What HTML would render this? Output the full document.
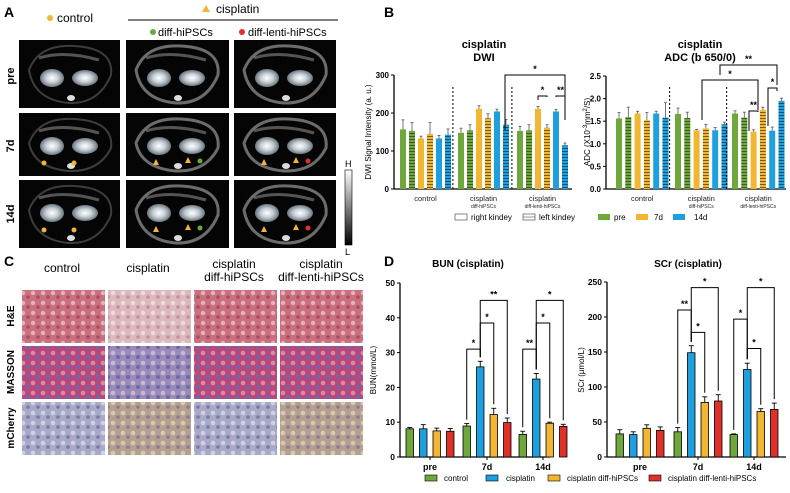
<!DOCTYPE html>
<html><head><meta charset="utf-8"><style>
body{margin:0;background:#fff;font-family:"Liberation Sans",Arial,sans-serif}
svg text{font-family:"Liberation Sans",Arial,sans-serif}
</style></head><body>
<svg id="fig" width="790" height="488" viewBox="0 0 790 488" xmlns="http://www.w3.org/2000/svg">
<defs>
<pattern id="hatchG" width="4" height="3" patternUnits="userSpaceOnUse"><rect width="4" height="3" fill="#6ea83c"/><line x1="0" y1="1.5" x2="4" y2="1.5" stroke="#2d4a18" stroke-width="0.8"/></pattern>
<pattern id="hatchY" width="4" height="3" patternUnits="userSpaceOnUse"><rect width="4" height="3" fill="#f2b632"/><line x1="0" y1="1.5" x2="4" y2="1.5" stroke="#5a4210" stroke-width="0.8"/></pattern>
<pattern id="hatchB" width="4" height="3" patternUnits="userSpaceOnUse"><rect width="4" height="3" fill="#1e9fe0"/><line x1="0" y1="1.5" x2="4" y2="1.5" stroke="#0c3f5a" stroke-width="0.8"/></pattern>
<radialGradient id="kid"><stop offset="0" stop-color="#ffffff"/><stop offset="0.5" stop-color="#c8d0d6"/><stop offset="1" stop-color="#6a7680"/></radialGradient>
<linearGradient id="cbar" x1="0" y1="0" x2="0" y2="1"><stop offset="0" stop-color="#fff"/><stop offset="1" stop-color="#000"/></linearGradient>
<pattern id="he" width="10" height="10" patternUnits="userSpaceOnUse"><rect width="10" height="10" fill="#c9707f"/><circle cx="3" cy="3" r="2.2" fill="#e7b1bb"/><circle cx="8" cy="7" r="1.8" fill="#a94b62"/></pattern>
<pattern id="heL" width="10" height="10" patternUnits="userSpaceOnUse"><rect width="10" height="10" fill="#dcb8bf"/><circle cx="3" cy="3" r="2.2" fill="#efdadd"/><circle cx="8" cy="7" r="1.8" fill="#c3929d"/></pattern>
<pattern id="ms" width="10" height="10" patternUnits="userSpaceOnUse"><rect width="10" height="10" fill="#b8487a"/><circle cx="3" cy="3" r="2.3" fill="#d88aa8"/><circle cx="8" cy="7" r="2" fill="#6a68b0"/></pattern>
<pattern id="msL" width="10" height="10" patternUnits="userSpaceOnUse"><rect width="10" height="10" fill="#9a8ab8"/><circle cx="3" cy="3" r="2.3" fill="#c8b8d8"/><circle cx="8" cy="7" r="2" fill="#6a6aaa"/></pattern>
<pattern id="mc" width="10" height="10" patternUnits="userSpaceOnUse"><rect width="10" height="10" fill="#a8a8c8"/><circle cx="3" cy="3" r="2.3" fill="#d0d0e0"/><circle cx="8" cy="7" r="1.8" fill="#7a7aa0"/></pattern>
<pattern id="mcB" width="10" height="10" patternUnits="userSpaceOnUse"><rect width="10" height="10" fill="#b4a08c"/><circle cx="3" cy="3" r="2.3" fill="#d8c8b8"/><circle cx="8" cy="7" r="1.8" fill="#8a7aa0"/></pattern>
</defs>
<g id="panelA">
<text x="4" y="17" font-size="14" font-weight="bold">A</text>
<circle cx="50" cy="18" r="3" fill="#f2b632"/>
<text x="57" y="22" font-size="12">control</text>
<polygon points="206,5 210,12 202,12" fill="#f2b632"/>
<text x="216" y="13" font-size="12">cisplatin</text>
<line x1="128" y1="20" x2="338" y2="20" stroke="#000"/>
<circle cx="153" cy="32" r="3" fill="#6ea83c"/>
<text x="158" y="36" font-size="11">diff-hiPSCs</text>
<circle cx="242" cy="32" r="3" fill="#e0302a"/>
<text x="248" y="36" font-size="11">diff-lenti-hiPSCs</text>
<text transform="translate(14,76) rotate(-90)" font-size="11" font-weight="bold" text-anchor="middle">pre</text>
<text transform="translate(14,146) rotate(-90)" font-size="11" font-weight="bold" text-anchor="middle">7d</text>
<text transform="translate(14,214) rotate(-90)" font-size="11" font-weight="bold" text-anchor="middle">14d</text>
<g id="mri"></g>
<rect x="345" y="170" width="7" height="75" fill="url(#cbar)" stroke="#000" stroke-width="0.6"/>
<text x="345" y="167" font-size="9">H</text>
<text x="345" y="255" font-size="9">L</text>
</g>
<g id="panelC">
<text x="4" y="266" font-size="14" font-weight="bold">C</text>
<text x="62" y="272" font-size="12" text-anchor="middle">control</text>
<text x="148" y="272" font-size="12" text-anchor="middle">cisplatin</text>
<text x="234" y="268" font-size="12" text-anchor="middle">cisplatin</text>
<text x="234" y="281" font-size="12" text-anchor="middle">diff-hiPSCs</text>
<text x="321" y="268" font-size="12" text-anchor="middle">cisplatin</text>
<text x="321" y="281" font-size="12" text-anchor="middle">diff-lenti-hiPSCs</text>
<text transform="translate(14,316) rotate(-90)" font-size="10" font-weight="bold" text-anchor="middle">H&amp;E</text>
<text transform="translate(14,372) rotate(-90)" font-size="10" font-weight="bold" text-anchor="middle">MASSON</text>
<text transform="translate(14,428) rotate(-90)" font-size="10" font-weight="bold" text-anchor="middle">mCherry</text>
<g id="histo"></g>
</g>
<g id="panelB">
<text x="384" y="17" font-size="14" font-weight="bold">B</text>
<text x="484" y="48" font-size="11" font-weight="bold" text-anchor="middle">cisplatin</text>
<text x="484" y="61" font-size="11" font-weight="bold" text-anchor="middle">DWI</text>
<text x="700" y="48" font-size="11" font-weight="bold" text-anchor="middle">cisplatin</text>
<text x="700" y="61" font-size="11" font-weight="bold" text-anchor="middle">ADC (b 650/0)</text>
<text transform="translate(371,132) rotate(-90)" font-size="8" text-anchor="middle">DWI Signal Intensity (a. u.)</text>
<text transform="translate(590,132) rotate(-90)" font-size="8" text-anchor="middle">ADC (X10<tspan dy="-3" font-size="6">-3</tspan><tspan dy="3">mm</tspan><tspan dy="-3" font-size="6">2</tspan><tspan dy="3">/S)</tspan></text>
<g id="chartDWI"></g><g id="chartADC"></g>
<g font-size="8">
<rect x="455" y="214" width="12" height="6" fill="#fff" stroke="#555" stroke-width="0.7"/><text x="471" y="220">right kindey</text>
<rect x="523" y="214" width="12" height="6" fill="#fff" stroke="#555" stroke-width="0.7"/><line x1="523" y1="217" x2="535" y2="217" stroke="#555" stroke-width="0.6"/><text x="539" y="220">left kindey</text>
<rect x="598" y="214" width="12" height="6" fill="#6ea83c"/><text x="614" y="220">pre</text>
<rect x="636" y="214" width="12" height="6" fill="#f2b632"/><text x="654" y="220">7d</text>
<rect x="673" y="214" width="12" height="6" fill="#1e9fe0"/><text x="694" y="220">14d</text>
</g>
</g>
<g id="panelD">
<text x="384" y="266" font-size="14" font-weight="bold">D</text>
<text x="468" y="267" font-size="10" font-weight="bold" text-anchor="middle">BUN (cisplatin)</text>
<text x="688" y="267" font-size="10" font-weight="bold" text-anchor="middle">SCr (cisplatin)</text>
<text transform="translate(376,370) rotate(-90)" font-size="8" text-anchor="middle">BUN(mmol/L)</text>
<text transform="translate(584,370) rotate(-90)" font-size="8" text-anchor="middle">SCr (μmol/L)</text>
<g id="chartBUN"></g><g id="chartSCR"></g>
<g font-size="8">
<rect x="425" y="475" width="12" height="6" fill="#6ea83c" stroke="#000" stroke-width="0.6"/><text x="444" y="481">control</text>
<rect x="486" y="475" width="12" height="6" fill="#1e9fe0" stroke="#000" stroke-width="0.6"/><text x="506" y="481">cisplatin</text>
<rect x="548" y="475" width="12" height="6" fill="#f2b632" stroke="#000" stroke-width="0.6"/><text x="567" y="481">cisplatin diff-hiPSCs</text>
<rect x="649" y="475" width="12" height="6" fill="#e0302a" stroke="#000" stroke-width="0.6"/><text x="668" y="481">cisplatin diff-lenti-hiPSCs</text>
</g>
</g>
</svg>
<script>
// ---------- Panel B data ----------
const bGroups = ["control","cisplatin","cisplatin"];
const bSub = ["","diff-hiPSCs","diff-lenti-hiPSCs"];
const dwiValues = [[157,153,133,145,133,143],[148,154,211,186,204,169],[153,154,211,161,204,115]];
const dwiErrors = [[25,22,6,30,8,15],[12,15,8,12,6,14],[12,15,6,8,5,6]];
const dwiTicks = [0,100,200,300];
const adcValues = [[1.56,1.59,1.67,1.52,1.67,1.58],[1.66,1.57,1.30,1.34,1.30,1.43],[1.67,1.58,1.27,1.75,1.29,1.95]];
const adcErrors = [[0.13,0.22,0.05,0.17,0.05,0.33],[0.13,0.13,0.02,0.09,0.06,0.05],[0.06,0.12,0.04,0.06,0.08,0.06]];
const adcTicks = [0,0.5,1.0,1.5,2.0,2.5];
// ---------- Panel D data ----------
const dCats = ["pre","7d","14d"];
const bunValues = [[8.1,8.1,7.5,7.4],[8.9,25.9,12.2,9.9],[6.5,22.4,9.7,8.8]];
const bunErrors = [[0.4,1.2,0.8,0.8],[0.7,1.6,1.8,1.3],[0.9,1.6,0.3,0.6]];
const bunTicks = [0,10,20,30,40,50];
const scrValues = [[33,32,41,38],[36,149,78,80],[32,125,65,68]];
const scrErrors = [[6,4,5,5],[6,10,8,9],[1,9,4,9]];
const scrTicks = [0,50,100,150,200,250];

const NS="http://www.w3.org/2000/svg";
function mk(parent,tag,attrs){const e=document.createElementNS(NS,tag);for(const k in attrs)e.setAttribute(k,attrs[k]);parent.appendChild(e);return e;}

function drawB(gid,vals,errs,ticks,ymax,x0,x1,y0,y1,groupStarts,step,fmt,name){
  const g=document.getElementById(gid);
  const ys=v=>y0-(v/ymax)*(y0-y1);
  const fills=["#6ea83c","url(#hatchG)","#f2b632","url(#hatchY)","#1e9fe0","url(#hatchB)"];
  mk(g,"line",{x1:x0,y1:y0,x2:x1,y2:y0,stroke:"#000","stroke-width":1.3});
  mk(g,"line",{x1:x0,y1:y0,x2:x0,y2:y1,stroke:"#000","stroke-width":1.3});
  ticks.forEach(t=>{
    mk(g,"line",{x1:x0-3,y1:ys(t),x2:x0,y2:ys(t),stroke:"#000"});
    const tx=mk(g,"text",{x:x0-5,y:ys(t)+3,"font-size":8,"font-weight":"bold","text-anchor":"end"});
    tx.textContent=fmt(t);
    
    
  });
  vals.forEach((grp,gi)=>{
    grp.forEach((v,bi)=>{
      const cx=groupStarts[gi]+bi*step, w=6;
      const e=errs[gi][bi];
      mk(g,"line",{x1:cx,y1:ys(v),x2:cx,y2:ys(v+e),stroke:"#555","stroke-width":0.8});
      mk(g,"line",{x1:cx-1.5,y1:ys(v+e),x2:cx+1.5,y2:ys(v+e),stroke:"#555","stroke-width":0.8});
      const r=mk(g,"rect",{x:cx-w/2,y:ys(v),width:w,height:y0-ys(v),fill:fills[bi]});
      
      
    });
    const c=groupStarts[gi]+2.5*step;
    const t=mk(g,"text",{x:c,y:y0+12,"font-size":7.5,"text-anchor":"middle",fill:"#222"});t.textContent=bGroups[gi];
    if(bSub[gi]){const s=mk(g,"text",{x:c,y:y0+19,"font-size":5,"text-anchor":"middle",fill:"#222"});s.textContent=bSub[gi];}
    if(gi>0){const dx=groupStarts[gi]-step*0.9;mk(g,"line",{x1:dx,y1:y0,x2:dx,y2:y1+10,stroke:"#000","stroke-dasharray":"2,2","stroke-width":1});}
  });
  return {ys};
}
drawB("chartDWI",dwiValues,dwiErrors,dwiTicks,300,394,572,189,75,[403,461,520],9,t=>t,"dwi");
drawB("chartADC",adcValues,adcErrors,adcTicks,2.5,606,786,189,76,[619,678,735],9.3,t=>t.toFixed(1),"adc");

function bracket(g,xa,xb,y,ya,yb,label){
  mk(g,"polyline",{points:`${xa},${ya} ${xa},${y} ${xb},${y} ${xb},${yb}`,fill:"none",stroke:"#000","stroke-width":1});
  const t=mk(g,"text",{x:(xa+xb)/2,y:y-3,"font-size":9,"font-weight":"bold","text-anchor":"middle"});t.textContent=label;
}
const gD=document.getElementById("chartDWI");
bracket(gD,538,547,96,100,97,"*");bracket(gD,556,565,96,97,105,"**");bracket(gD,505,565,75,130,120,"*");
const gA=document.getElementById("chartADC");
bracket(gA,768,777,88,126,91,"*");bracket(gA,749,758,111,131,112,"**");bracket(gA,702,758,80,120,110,"*");bracket(gA,720,777,65,75,85,"**");

function drawD(gid,vals,errs,ticks,ymax,x0,x1,y0,y1,centers,name,brs){
  const g=document.getElementById(gid);
  const ys=v=>y0-(v/ymax)*(y0-y1);
  const cols=["#6ea83c","#1e9fe0","#f2b632","#e0302a"];
  mk(g,"line",{x1:x0,y1:y0,x2:x1,y2:y0,stroke:"#000","stroke-width":1.3});
  mk(g,"line",{x1:x0,y1:y0,x2:x0,y2:y1,stroke:"#000","stroke-width":1.3});
  ticks.forEach(t=>{
    mk(g,"line",{x1:x0-3,y1:ys(t),x2:x0,y2:ys(t),stroke:"#000"});
    const tx=mk(g,"text",{x:x0-5,y:ys(t)+3,"font-size":8.5,"font-weight":"bold","text-anchor":"end"});tx.textContent=t;
    
    
  });
  const pos=[];
  vals.forEach((grp,gi)=>{
    pos.push([]);
    grp.forEach((v,bi)=>{
      const cx=centers[gi]+(bi-1.5)*13.5, w=7.5;pos[gi].push(cx);
      const e=errs[gi][bi];
      mk(g,"line",{x1:cx,y1:ys(v),x2:cx,y2:ys(v+e),stroke:"#000","stroke-width":0.9});
      mk(g,"line",{x1:cx-2.5,y1:ys(v+e),x2:cx+2.5,y2:ys(v+e),stroke:"#000","stroke-width":0.9});
      const r=mk(g,"rect",{x:cx-w/2,y:ys(v),width:w,height:y0-ys(v),fill:cols[bi],stroke:"#000","stroke-width":0.8});
      
      
    });
    mk(g,"line",{x1:centers[gi],y1:y0,x2:centers[gi],y2:y0+3,stroke:"#000"});
    const t=mk(g,"text",{x:centers[gi],y:y0+13,"font-size":9,"font-weight":"bold","text-anchor":"middle"});t.textContent=dCats[gi];
  });
  brs.forEach(b=>{
    const [gi,a,c,h,lab]=b;
    const xa=pos[gi][a],xb=pos[gi][c];
    const va=vals[gi][a]+errs[gi][a], vb=vals[gi][c]+errs[gi][c];
    bracket(g,xa,xb,ys(h),ys(va)-4,ys(vb)-4,lab);
  });
}
drawD("chartBUN",bunValues,bunErrors,bunTicks,50,400,550,457,283,[430,487,543],"bun",
 [[1,0,1,31,"*"],[1,1,2,38.5,"*"],[1,1,3,45,"**"],[2,0,1,31,"**"],[2,1,2,38.5,"*"],[2,1,3,45,"*"]]);
drawD("chartSCR",scrValues,scrErrors,scrTicks,250,607,786,457,282,[640,698,754],"scr",
 [[1,0,1,210,"**"],[1,1,2,178,"*"],[1,1,3,242,"*"],[2,0,1,197,"*"],[2,1,2,155,"*"],[2,1,3,242,"*"]]);

// MRI tiles
const mri=document.getElementById("mri");
const cols=[19,126,234],colW=[101,103,102],rows=[40,113,180],rowH=[68,63,68];
const markColor=["#f2b632","#6ea83c","#e0302a"];
rows.forEach((ry,ri)=>cols.forEach((cx,ci)=>{
  const w=colW[ci],h=rowH[ri];
  const r=mk(mri,"rect",{x:cx,y:ry,width:w,height:h,fill:"#050505"});
  
  
  mk(mri,"path",{d:`M${cx+10},${ry+30} Q${cx+20},${ry+4} ${cx+55},${ry+6} Q${cx+95},${ry+8} ${cx+92},${ry+35} Q${cx+80},${ry+h-4} ${cx+50},${ry+h-5} Q${cx+15},${ry+h-8} ${cx+10},${ry+30}Z`,fill:"none",stroke:ci==0?"#555":"#999","stroke-width":ci==0?2:3,opacity:0.7});
  mk(mri,"path",{d:`M${cx+20},${ry+18} Q${cx+45},${ry+10} ${cx+80},${ry+20}`,fill:"none",stroke:"#888","stroke-width":3,opacity:0.6});
  const ky=ry+(ri==0?38:33);
  mk(mri,"ellipse",{cx:cx+33,cy:ky,rx:12,ry:9,fill:"url(#kid)"});
  mk(mri,"ellipse",{cx:cx+66,cy:ky,rx:13,ry:8,fill:"url(#kid)"});
  mk(mri,"ellipse",{cx:cx+52,cy:ry+h-10,rx:4,ry:3,fill:"#ddd"});
  if(ri>0){
    if(ci==0){mk(mri,"circle",{cx:cx+25,cy:ky+17,r:2.5,fill:markColor[0]});mk(mri,"circle",{cx:cx+55,cy:ky+17,r:2.5,fill:markColor[0]});}
    else{
      mk(mri,"polygon",{points:`${cx+30},${ky+13} ${cx+33},${ky+19} ${cx+27},${ky+19}`,fill:"#f2b632"});
      mk(mri,"polygon",{points:`${cx+62},${ky+11} ${cx+65},${ky+17} ${cx+59},${ky+17}`,fill:"#f2b632"});
      mk(mri,"circle",{cx:cx+74,cy:ky+15,r:2.5,fill:markColor[ci]});
    }
  }
}));
// histology tiles
const histo=document.getElementById("histo");
const hx=[22,108,194,280],hy=[290,346,402];
const fillsH=[["he","heL","he","he"],["ms","msL","ms","ms"],["mc","mcB","mc","mcB"]];
hy.forEach((y,ri)=>hx.forEach((x,ci)=>{
  const r=mk(histo,"rect",{x:x,y:y,width:83,height:53,fill:"url(#"+fillsH[ri][ci]+")"});
  
  
}));
</script>
</body></html>
